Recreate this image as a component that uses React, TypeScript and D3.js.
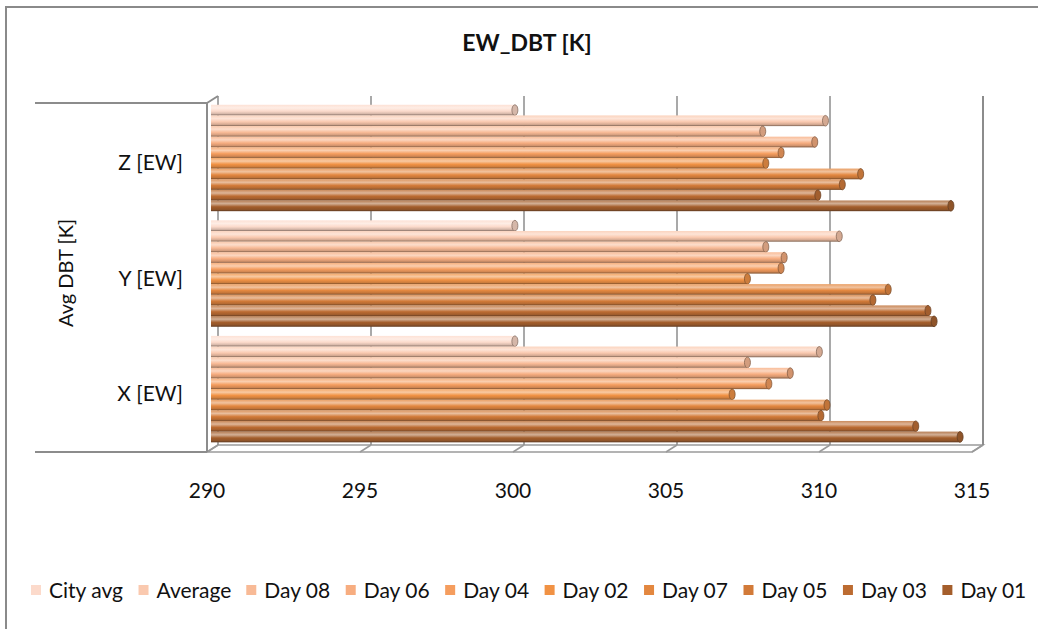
import React from "react";
import * as d3 from "d3";

const categories = ["Z [EW]", "Y [EW]", "X [EW]"];
const seriesNames = ["City avg", "Average", "Day 08", "Day 06", "Day 04", "Day 02", "Day 07", "Day 05", "Day 03", "Day 01"];
const seriesColors = ["#FCDACB", "#FAC9AF", "#F8BA96", "#F7AD80", "#F59D5E", "#F19244", "#E3873F", "#D27A38", "#BC6B31", "#A45E2B"];
const zValues = [299.8, 309.95, 307.9, 309.6, 308.5, 308.0, 311.1, 310.5, 309.7, 314.05];
const yValues = [299.8, 310.4, 308.0, 308.6, 308.5, 307.4, 312.0, 311.5, 313.3, 313.5];
const xValues = [299.8, 309.75, 307.4, 308.8, 308.1, 306.9, 310.0, 309.8, 312.9, 314.35];
const valuesByCategory = [zValues, yValues, xValues];
const ticks = [290, 295, 300, 305, 310, 315];
const title = "EW_DBT [K]";
const yTitle = "Avg DBT [K]";

const W = 1038, H = 629;
const FONT = "Lato, 'Open Sans', sans-serif";
// 3D geometry
const backY0 = 96, backY1 = 445;
const DX = -11, DY = 7;

function measure(text: string, font: string) {
  const c = document.createElement("canvas").getContext("2d")!;
  c.font = font;
  return c.measureText(text).width;
}

export default function App() {
  const x = d3.scaleLinear().domain([290, 315]).range([218, 983]);
  const yBand = d3.scaleBand<string>().domain(categories).range([99, 448]).paddingInner(0.08).paddingOuter(0.05);
  const inner = d3.scaleBand<string>().domain(seriesNames).range([0, yBand.bandwidth()]).padding(0);
  const barH = inner.bandwidth();
  const rx = 3;

  const light = (c: string, k: number) => d3.interpolateRgb(c, "#ffffff")(k);
  const dark = (c: string, k: number) => d3.interpolateRgb(c, "#3a2a20")(k);

  // legend layout
  const legSize = 21;
  const legFont = `${legSize}px Lato`;
  let lx = 31;
  const legend = seriesNames.map((s, i) => {
    const w = measure(s, legFont);
    const item = { s, i, x: lx };
    lx += 18 + w + 15;
    return item;
  });

  const x0 = x(290) + DX + 4;

  return (
    <svg width={W} height={H} style={{ position: "absolute", left: 0, top: 0, background: "#fff" }} fontFamily={FONT}>
      <defs>
        {seriesColors.map((c, i) => (
          <linearGradient key={i} id={`g${i}`} x1="0" y1="0" x2="0" y2="1">
            <stop offset="0" stopColor={light(c, 0.2)} />
            <stop offset="0.3" stopColor={light(c, 0.5)} />
            <stop offset="0.6" stopColor={c} />
            <stop offset="0.85" stopColor={dark(c, 0.2)} />
            <stop offset="1" stopColor={dark(c, 0.55)} />
          </linearGradient>
        ))}
      </defs>
      {/* outer frame */}
      <rect x={6} y={7} width={W + 20} height={H + 20} fill="none" stroke="#8a8a8a" strokeWidth={2} />

      {/* title */}
      <text x={527} y={51} textAnchor="middle" fontWeight="bold" fontSize={23} fill="#111">{title}</text>

      {/* floor */}
      <polygon points={`${x(290)},${backY1} ${x(315)},${backY1} ${x(315) + DX},${backY1 + DY} ${x(290) + DX},${backY1 + DY}`} fill="#fff" stroke="#9a9a9a" strokeWidth={1.5} />
      {ticks.map((t) => (
        <line key={"fl" + t} x1={x(t)} y1={backY1} x2={x(t) + DX} y2={backY1 + DY} stroke="#9a9a9a" strokeWidth={1.5} />
      ))}
      {/* back wall gridlines */}
      {ticks.map((t) => (
        <line key={"gl" + t} x1={x(t)} y1={backY0} x2={x(t)} y2={backY1} stroke="#8c8c8c" strokeWidth={1.5} />
      ))}
      {/* right wall edge */}
      <line x1={x(315)} y1={backY0} x2={x(315)} y2={backY1} stroke="#8c8c8c" strokeWidth={2} />
      {/* left front edge and category axis lines */}
      <line x1={x(290) + DX} y1={backY0 + DY} x2={x(290) + DX} y2={backY1 + DY} stroke="#8c8c8c" strokeWidth={2} />
      <line x1={x(290) + DX} y1={backY0 + DY} x2={x(290)} y2={backY0} stroke="#8c8c8c" strokeWidth={2} />
      <line x1={35} y1={backY0 + DY} x2={x(290) + DX} y2={backY0 + DY} stroke="#8c8c8c" strokeWidth={2} />
      <line x1={35} y1={backY1 + DY} x2={x(290) + DX} y2={backY1 + DY} stroke="#8c8c8c" strokeWidth={2} />

      {/* bars */}
      {categories.map((cat, ci) =>
        seriesNames.map((s, si) => {
          const v = valuesByCategory[ci][si];
          const y = (yBand(cat) as number) + (inner(s) as number);
          const xe = x(v) - rx;
          const c = seriesColors[si];
          return (
            <g key={cat + s}>
              <rect x={x0} y={y} width={xe - x0} height={barH} fill={`url(#g${si})`} />
              <line x1={x0} x2={xe} y1={y + barH - 0.4} y2={y + barH - 0.4} stroke={dark(c, 0.55)} strokeOpacity={0.6} strokeWidth={0.8} />
              <ellipse cx={xe} cy={y + barH / 2} rx={rx} ry={barH / 2} fill={dark(c, 0.2)} stroke={dark(c, 0.6)} strokeWidth={0.8} />
            </g>
          );
        })
      )}

      {/* category labels */}
      {categories.map((cat) => (
        <text key={cat} x={183} y={(yBand(cat) as number) + yBand.bandwidth() / 2 + DY} textAnchor="end" dominantBaseline="middle" fontSize={21} fill="#111">{cat}</text>
      ))}
      {/* axis title */}
      <text transform={`translate(68,${273}) rotate(-90)`} textAnchor="middle" dominantBaseline="middle" fontSize={20} fill="#111">{yTitle}</text>

      {/* value tick labels */}
      {ticks.map((t) => (
        <text key={"t" + t} x={x(t) + DX} y={498} textAnchor="middle" fontSize={21} fill="#111">{t}</text>
      ))}

      {/* legend */}
      {legend.map(({ s, i, x: lxp }) => (
        <g key={"l" + s}>
          <rect x={lxp} y={585} width={10} height={10} fill={seriesColors[i]} />
          <text x={lxp + 18} y={598} fontSize={legSize} fill="#111">{s}</text>
        </g>
      ))}
    </svg>
  );
}
